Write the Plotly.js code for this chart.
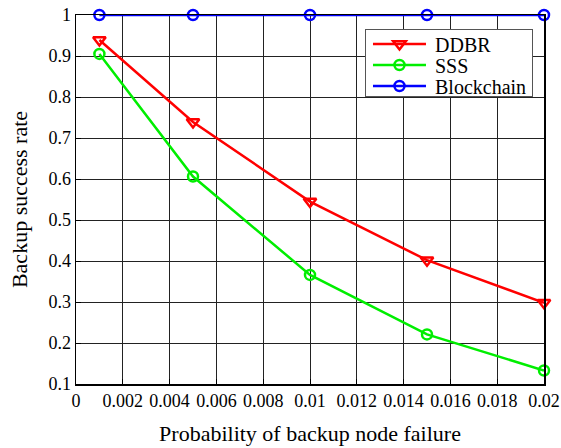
<!DOCTYPE html>
<html><head><meta charset="utf-8">
<script src="https://cdn.plot.ly/plotly-3.0.1.min.js"></script>
<style>html,body{margin:0;padding:0;background:#fff}#g{width:561px;height:448px}</style>
</head><body><div id="g"></div>
<script>
const xVals = [0.001, 0.005, 0.01, 0.015, 0.02];
const ddbr = [0.939, 0.739, 0.545, 0.402, 0.298];
const sss = [0.905, 0.606, 0.366, 0.221, 0.133];
const blockchain = [1, 1, 1, 1, 1];
const xTicks = [0, 0.002, 0.004, 0.006, 0.008, 0.01, 0.012, 0.014, 0.016, 0.018, 0.02];
const xTickText = ['0','0.002','0.004','0.006','0.008','0.01','0.012','0.014','0.016','0.018','0.02'];
const yTicks = [0.1,0.2,0.3,0.4,0.5,0.6,0.7,0.8,0.9,1];
const yTickText = ['0.1','0.2','0.3','0.4','0.5','0.6','0.7','0.8','0.9','1'];

const font = 'Liberation Serif';
const traces = [
  {x: xVals, y: ddbr, name: 'DDBR', mode: 'lines+markers', cliponaxis: false,
   line: {color: '#ff0000', width: 2.5},
   marker: {symbol: 'triangle-down-open', size: 11, color: '#ff0000', line: {width: 2.5, color: '#ff0000'}}},
  {x: xVals, y: sss, name: 'SSS', mode: 'lines+markers', cliponaxis: false,
   line: {color: '#00ee00', width: 2.5},
   marker: {symbol: 'circle-open', size: 10, color: '#00ee00', line: {width: 2.5, color: '#00ee00'}}},
  {x: xVals, y: blockchain, name: 'Blockchain', mode: 'lines+markers', cliponaxis: false,
   line: {color: '#0000ff', width: 2.5},
   marker: {symbol: 'circle-open', size: 10, color: '#0000ff', line: {width: 2.5, color: '#0000ff'}}}
];
const layout = {
  width: 561, height: 448,
  margin: {l: 76, r: 17, t: 15, b: 64},
  paper_bgcolor: '#fff', plot_bgcolor: '#fff',
  font: {family: font, size: 18, color: '#000'},
  showlegend: true,
  legend: {x: 0.6175, xanchor: 'left', y: 0.962, yanchor: 'top',
    bgcolor: '#fff', bordercolor: '#555', borderwidth: 1.2,
    font: {family: font, size: 20, color: '#000'}, tracegroupgap: 0},
  xaxis: {range: [0, 0.02], tickvals: xTicks, ticktext: xTickText,
    showgrid: true, gridcolor: '#222', gridwidth: 1,
    showline: true, mirror: true, linecolor: '#000', linewidth: 1.5,
    ticks: 'inside', ticklen: 5, tickcolor: '#000', zeroline: false,
    tickfont: {family: font, size: 18, color: '#000'},
    title: {text: 'Probability of backup node failure', font: {family: font, size: 22}, standoff: 15}},
  yaxis: {range: [0.1, 1], tickvals: yTicks, ticktext: yTickText,
    showgrid: true, gridcolor: '#222', gridwidth: 1,
    showline: true, mirror: true, linecolor: '#000', linewidth: 1.5,
    ticks: 'inside', ticklen: 5, tickcolor: '#000', zeroline: false,
    tickfont: {family: font, size: 18, color: '#000'},
    title: {text: 'Backup success rate', font: {family: font, size: 22}, standoff: 14}}
};
Plotly.newPlot('g', traces, layout, {displayModeBar: false, staticPlot: true}).then(function (gd) {
  // tighten the legend to match the reference's compact box
  const leg = gd.querySelector('.legend');
  if (!leg) return;
  const sb = leg.querySelector('.scrollbox');
  if (sb) sb.removeAttribute('clip-path');
  const items = leg.querySelectorAll('.traces');
  items.forEach(function (it, i) {
    it.setAttribute('transform', 'translate(0,' + (15 + 21 * i) + ')');
    const ln = it.querySelector('path.js-line');
    if (ln) ln.setAttribute('d', 'M8,0h53');
    it.querySelectorAll('.legendpoints path').forEach(function (p) {
      p.setAttribute('transform', 'translate(34.5,0)');
    });
    const tx = it.querySelector('text.legendtext');
    if (tx) {
      tx.setAttribute('x', 70);
      tx.querySelectorAll('tspan').forEach(function (t) { if (t.hasAttribute('x')) t.setAttribute('x', 70); });
    }
  });
  const bg = leg.querySelector('rect.bg');
  if (bg) { bg.setAttribute('width', 167); bg.setAttribute('height', 67); }
});
</script></body></html>
